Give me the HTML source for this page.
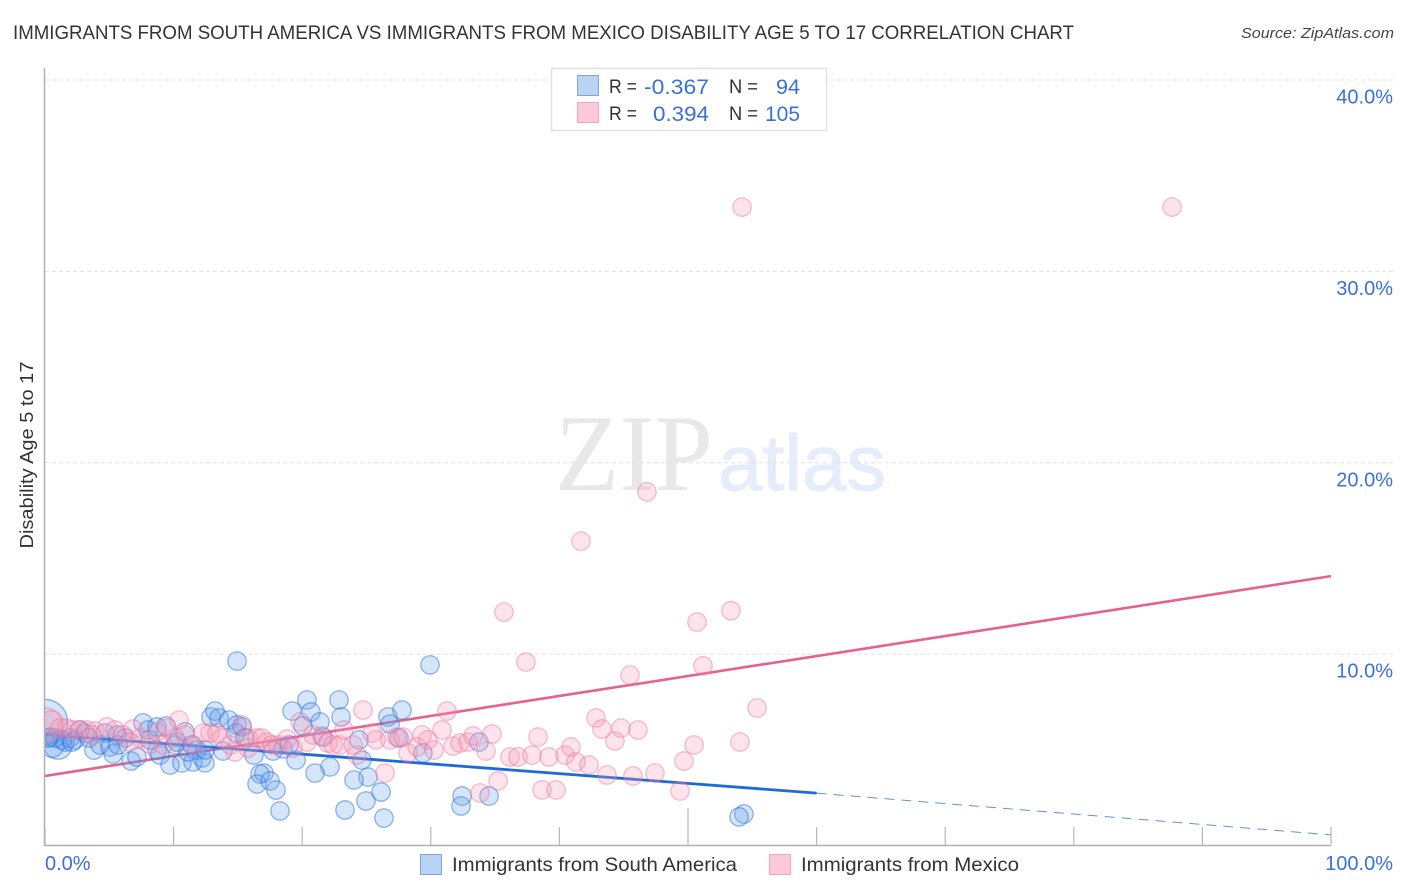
<!DOCTYPE html>
<html>
<head>
<meta charset="utf-8">
<title>Disability Age 5 to 17 Correlation Chart</title>
<style>
html,body{margin:0;padding:0;background:#fff;}
svg{display:block;font-family:"Liberation Sans",sans-serif;}
</style>
</head>
<body>
<svg id="chart" width="1406" height="892" viewBox="0 0 1406 892">
<defs><clipPath id="plot-clip"><rect x="45" y="60" width="1350" height="785"/></clipPath></defs>
<rect x="0" y="0" width="1406" height="892" fill="#fff"/>
<text x="13" y="39" font-size="19.5" fill="#333" textLength="1061" lengthAdjust="spacingAndGlyphs">IMMIGRANTS FROM SOUTH AMERICA VS IMMIGRANTS FROM MEXICO DISABILITY AGE 5 TO 17 CORRELATION CHART</text>
<text x="1241" y="38" font-size="15" font-style="italic" fill="#444" textLength="153" lengthAdjust="spacingAndGlyphs">Source: ZipAtlas.com</text>
<g>
<text x="555" y="490" font-size="109" fill="#e8e8e8" font-family="'Liberation Serif',serif" textLength="158" lengthAdjust="spacingAndGlyphs">ZIP</text>
<text x="718" y="490" font-size="79" fill="#e4edf9" stroke="#e4edf9" stroke-width="1" textLength="168" lengthAdjust="spacingAndGlyphs">atlas</text>
</g>
<g id="grid"></g>
<g id="lines" clip-path="url(#plot-clip)"></g>
<g id="points" clip-path="url(#plot-clip)"></g>
<g id="axes"></g>
<text transform="translate(33,455) rotate(-90)" text-anchor="middle" font-size="18" fill="#333" textLength="187" lengthAdjust="spacingAndGlyphs">Disability Age 5 to 17</text>
<g>
<rect x="551.5" y="68.5" width="275" height="62" fill="#fff" stroke="#e2e2e2" stroke-width="1.5"/>
<rect x="577.5" y="75.5" width="21" height="20" fill="#b9d3f5" stroke="#7ea6dc" stroke-width="1"/>
<rect x="577.5" y="102.5" width="21" height="20" fill="#fbc9d9" stroke="#f2a5be" stroke-width="1"/>
<g font-size="19.5" fill="#333">
<text x="609" y="93" textLength="28" lengthAdjust="spacingAndGlyphs">R =</text>
<text x="609" y="120" textLength="28" lengthAdjust="spacingAndGlyphs">R =</text>
<text x="729" y="93" textLength="29" lengthAdjust="spacingAndGlyphs">N =</text>
<text x="729" y="120" textLength="29" lengthAdjust="spacingAndGlyphs">N =</text>
</g>
<g font-size="21.5" fill="#3b70d4">
<text x="644" y="94" textLength="65" lengthAdjust="spacingAndGlyphs">-0.367</text>
<text x="653" y="121" textLength="56" lengthAdjust="spacingAndGlyphs">0.394</text>
<text x="776" y="94" textLength="24" lengthAdjust="spacingAndGlyphs">94</text>
<text x="765" y="121" textLength="35" lengthAdjust="spacingAndGlyphs">105</text>
</g>
</g>
<g>
<g>
<rect x="420.5" y="854.5" width="21" height="20" fill="#b9d3f5" stroke="#7ea6dc" stroke-width="1"/>
<text x="452" y="871" font-size="19.5" fill="#333" textLength="285" lengthAdjust="spacingAndGlyphs">Immigrants from South America</text>
</g>
<g>
<rect x="769.5" y="854.5" width="21" height="20" fill="#fbc9d9" stroke="#f2a5be" stroke-width="1"/>
<text x="801" y="871" font-size="19.5" fill="#333" textLength="218" lengthAdjust="spacingAndGlyphs">Immigrants from Mexico</text>
</g>
</g>
</svg>
<script>
const yTicks = [10, 20, 30, 40];
const yTickLabels = ["10.0%", "20.0%", "30.0%", "40.0%"];
const xTicks = [0, 10, 20, 30, 40, 50, 60, 70, 80, 90, 100];
const xTickLabels = ["0.0%", "100.0%"];

const blueX = [0,1.01,0.54,1.56,1.94,1.32,2.33,2.72,3.11,3.42,3.81,4.28,4.67,5.05,5.29,5.6,6.22,6.69,7.15,7.62,8.01,8.71,9.41,8.71,8.94,9.72,10.11,10.26,10.65,10.89,11.51,11.82,12.21,12.44,12.91,13.22,13.53,14.31,14.93,15.32,14.85,14.93,13.84,15.55,16.25,17.73,18.51,18.97,19.52,17.03,16.72,16.49,17.5,17.96,18.27,20.37,19.21,20.68,21.38,22.86,23.02,20.06,21.62,24.42,24.65,25.12,24.03,22.16,21.0,26.13,24.96,23.33,26.36,26.67,26.83,27.76,27.53,29.39,33.75,29.94,32.43,32.35,34.53,54.35,53.97,0.39,0.78,2.1,5.68,8.16,11.12,12.44,11.43,0.23];
const blueY = [6.46,5.26,5.26,5.41,5.62,5.52,5.52,6.04,5.88,5.62,4.99,5.26,5.88,5.15,4.79,5.78,5.62,4.42,4.63,6.41,6.04,6.2,6.25,4.99,4.73,4.21,5.26,5.41,4.32,5.94,4.37,4.99,4.58,4.32,6.72,7.03,6.67,6.56,6.3,6.2,5.88,9.64,4.94,5.62,4.73,4.94,5.05,5.26,4.47,3.79,3.74,3.22,3.38,2.9,1.81,7.61,7.03,6.98,6.46,7.61,6.72,6.25,5.67,5.52,4.47,3.58,3.43,4.11,3.79,2.8,2.33,1.86,1.44,6.72,6.35,7.08,5.62,4.84,5.41,9.44,2.59,2.07,2.59,1.65,1.5,5.67,5.62,5.41,5.26,5.52,4.89,5.0,5.26,5.62];
const blueWeight = [6,2.4,1.8];

const pinkX = [0,0.54,1.17,1.71,2.1,2.64,3.27,3.89,4.82,5.44,6.07,6.84,7.39,8.16,8.71,9.49,10.42,10.89,11.51,12.29,12.83,13.37,14.39,15.32,15.79,15.79,16.49,16.87,17.26,18.12,18.82,19.28,19.83,20.37,20.84,21.54,22.0,22.4,22.94,23.25,23.95,24.26,24.73,25.43,25.74,26.44,26.83,27.37,27.84,28.23,28.93,29.32,29.78,30.25,30.87,31.26,31.73,32.27,32.89,33.28,33.83,34.29,34.76,35.23,35.69,36.16,36.78,37.4,37.87,38.34,38.65,39.19,39.74,40.44,40.9,41.29,41.68,42.3,42.85,43.31,43.7,44.32,44.79,45.49,45.72,46.11,46.81,47.43,49.38,49.69,50.47,50.7,51.17,53.34,54.04,54.2,55.37,87.64,3.65,6.61,9.18,10.11,13.76,14.77,17.65];
const pinkY = [6.3,6.46,6.14,6.14,6.04,6.04,6.04,5.99,6.2,6.04,5.78,6.09,5.62,5.31,5.94,6.14,6.56,5.78,5.26,5.88,5.88,5.88,5.26,6.3,5.62,5.1,5.62,5.62,5.41,5.26,5.57,5.1,6.46,5.41,5.78,5.73,5.36,5.26,5.26,6.04,5.26,4.73,7.08,5.88,5.52,3.79,5.52,5.67,5.67,4.84,5.15,5.78,5.52,4.99,6.04,7.03,5.2,5.36,5.41,5.73,2.75,4.94,5.83,3.38,12.2,4.63,4.63,9.59,4.73,5.67,2.91,4.63,2.91,4.73,5.15,4.37,15.91,4.21,6.67,6.09,3.69,5.46,6.14,8.91,3.64,6.04,18.48,3.79,2.85,4.42,5.26,11.68,9.39,12.27,5.41,33.36,7.19,33.36,5.78,5.41,5.26,5.62,5.62,4.89,5.26];
const pinkWeight = [3.5,1.5];

const blueTrendX = [0, 60, 100];
const blueTrendY = [5.8, 2.74, 0.56];
const pinkTrendX = [0, 100];
const pinkTrendY = [3.64, 14.08];

const NS = 'http://www.w3.org/2000/svg';
function xScale(v) { return 45 + v * 12.86; }
function yScale(v) { return 845.6 - v * 19.14; }
function make(tag, attrs) {
  const el = document.createElementNS(NS, tag);
  for (const k in attrs) el.setAttribute(k, attrs[k]);
  return el;
}

const gridG = document.getElementById('grid');
const axesG = document.getElementById('axes');

yTicks.forEach(function (t, i) {
  const line = make('line', {x1: 45, x2: 1393, y1: yScale(t), y2: yScale(t), stroke: '#e0e0e0', 'stroke-width': 1, 'stroke-dasharray': '4 3'});
  
  
  gridG.appendChild(line);
  const label = make('text', {x: 1393, y: yScale(t) + 23.5, 'text-anchor': 'end', 'font-size': 20, fill: '#3b70d4'});
  label.textContent = yTickLabels[i];
  
  
  axesG.appendChild(label);
});

const yAxis = make('line', {x1: 44.5, x2: 44.5, y1: 68, y2: 846, stroke: '#b0b0b0', 'stroke-width': 1.5});


axesG.appendChild(yAxis);
const xAxis = make('line', {x1: 44, x2: 1331, y1: 845.5, y2: 845.5, stroke: '#b0b0b0', 'stroke-width': 1.5});


axesG.appendChild(xAxis);

xTicks.forEach(function (t) {
  const tick = make('line', {x1: xScale(t), x2: xScale(t), y1: t === 50 ? 808 : 827, y2: 845, stroke: '#b8b8b8', 'stroke-width': 1.2});
  
  
  axesG.appendChild(tick);
});

const xLabelLeft = make('text', {x: 45, y: 870, 'font-size': 20, fill: '#3b70d4'});
xLabelLeft.textContent = xTickLabels[0];


axesG.appendChild(xLabelLeft);
const xLabelRight = make('text', {x: 1393, y: 870, 'text-anchor': 'end', 'font-size': 20, fill: '#3b70d4'});
xLabelRight.textContent = xTickLabels[1];


axesG.appendChild(xLabelRight);

const linesG = document.getElementById('lines');
const pinkLine = make('line', {x1: xScale(pinkTrendX[0]), y1: yScale(pinkTrendY[0]), x2: xScale(pinkTrendX[1]), y2: yScale(pinkTrendY[1]), stroke: '#e8608f', 'stroke-width': 2.6});


linesG.appendChild(pinkLine);
const blueSolid = make('line', {x1: xScale(blueTrendX[0]), y1: yScale(blueTrendY[0]), x2: xScale(blueTrendX[1]), y2: yScale(blueTrendY[1]), stroke: '#1f6bd6', 'stroke-width': 2.8});


linesG.appendChild(blueSolid);
const blueDash = make('line', {x1: xScale(blueTrendX[1]), y1: yScale(blueTrendY[1]), x2: xScale(blueTrendX[2]), y2: yScale(blueTrendY[2]), stroke: '#5c93e0', 'stroke-width': 1, 'stroke-dasharray': '10 7'});


linesG.appendChild(blueDash);

const pointsG = document.getElementById('points');
blueX.forEach(function (x, i) {
  const w = blueWeight[i] || 1;
  const c = make('circle', {cx: xScale(x), cy: yScale(blueY[i]), r: 9.2 * Math.sqrt(w), fill: 'rgba(100,160,235,0.27)', stroke: 'rgba(40,110,215,0.5)', 'stroke-width': 1.3});
  
  
  pointsG.appendChild(c);
});
pinkX.forEach(function (x, i) {
  const w = pinkWeight[i] || 1;
  const c = make('circle', {cx: xScale(x), cy: yScale(pinkY[i]), r: 9.2 * Math.sqrt(w), fill: 'rgba(248,150,180,0.27)', stroke: 'rgba(235,110,150,0.45)', 'stroke-width': 1.3});
  
  
  pointsG.appendChild(c);
});
</script>
</body>
</html>
